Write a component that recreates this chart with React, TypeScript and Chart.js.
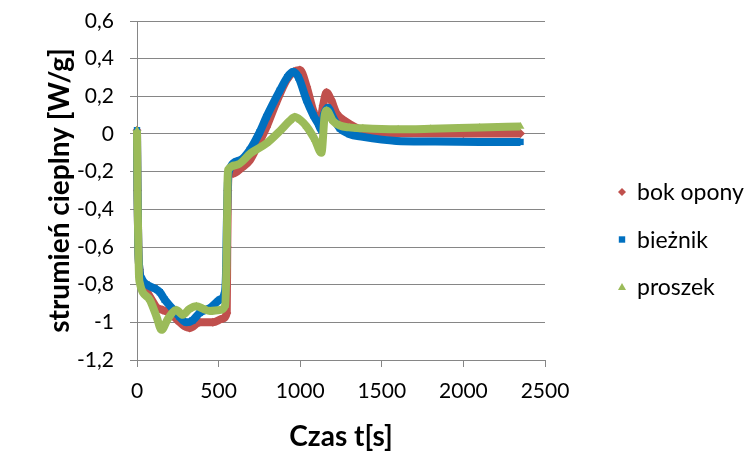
import React, { useEffect, useRef } from 'react';
import { Chart, registerables } from 'chart.js';

Chart.register(...registerables);

const SERIES_NAMES = ['bok opony', 'bieżnik', 'proszek'];
const SERIES_COLORS = ['#C0504D', '#0070C0', '#9BBB59'];
const SERIES_MARKERS = ['rectRot', 'rect', 'triangle'];

const bokOponyT = [0, 3, 8, 15, 30, 57, 90, 119, 158, 200, 250, 290, 323, 384, 465, 527, 550, 553, 557, 565, 589, 640, 691, 740, 793, 850, 916, 960, 998, 1040, 1079, 1120, 1140, 1161, 1190, 1222, 1284, 1384, 1500, 1590, 2000, 2350];
const bokOponyQ = [0.02, -0.3, -0.6, -0.72, -0.78, -0.83, -0.88, -0.92, -0.935, -0.95, -0.99, -1.02, -1.03, -1.0, -1.0, -0.98, -0.95, -0.6, -0.3, -0.21, -0.21, -0.18, -0.14, -0.06, 0.036, 0.16, 0.285, 0.33, 0.34, 0.25, 0.126, 0.055, 0.15, 0.22, 0.18, 0.11, 0.064, 0.02, 0.008, 0.004, 0.003, 0.003];

const bieznikT = [0, 3, 8, 15, 30, 60, 108, 140, 170, 220, 260, 303, 340, 384, 446, 507, 535, 545, 550, 555, 562, 630, 691, 752, 793, 875, 920, 956, 990, 1039, 1080, 1110, 1130, 1145, 1170, 1200, 1243, 1300, 1384, 1500, 1590, 1800, 2100, 2350];
const bieznikQ = [0.02, -0.3, -0.6, -0.72, -0.77, -0.8, -0.82, -0.84, -0.88, -0.93, -0.97, -1.0, -0.99, -0.95, -0.925, -0.88, -0.85, -0.75, -0.5, -0.3, -0.2, -0.14, -0.085, 0.01, 0.09, 0.23, 0.3, 0.33, 0.3, 0.18, 0.1, 0.055, 0.02, 0.1, 0.14, 0.09, 0.03, 0.0, -0.015, -0.03, -0.037, -0.04, -0.042, -0.042];

const proszekT = [0, 3, 8, 12, 17, 78, 120, 150, 190, 241, 281, 320, 364, 410, 446, 507, 540, 548, 552, 555, 558, 609, 700, 793, 880, 936, 967, 1000, 1039, 1090, 1130, 1150, 1161, 1200, 1243, 1300, 1384, 1600, 1800, 2100, 2350];
const proszekQ = [0.02, -0.3, -0.6, -0.75, -0.79, -0.88, -0.97, -1.04, -0.98, -0.935, -0.96, -0.93, -0.915, -0.93, -0.94, -0.935, -0.91, -0.7, -0.45, -0.25, -0.19, -0.165, -0.1, -0.05, 0.02, 0.07, 0.09, 0.075, 0.04, -0.03, -0.1, 0.1, 0.125, 0.07, 0.045, 0.035, 0.03, 0.025, 0.028, 0.035, 0.04];

const SERIES_T = [bokOponyT, bieznikT, proszekT];
const SERIES_Q = [bokOponyQ, bieznikQ, proszekQ];

const X_MIN = 0;
const X_MAX = 2500;
const X_STEP = 500;
const Y_MIN = -1.2;
const Y_MAX = 0.6;
const Y_STEP = 0.2;

const X_TITLE = 'Czas t[s]';
const Y_TITLE = 'strumień cieplny [W/g]';

const FONT = 'Lato, sans-serif';
const GRID = '#868686';

function fmtY(v: number): string {
  const r = Math.round(v * 10) / 10;
  if (Math.abs(r) < 1e-9) return '0';
  if (Number.isInteger(r)) return String(r);
  return r.toFixed(1).replace('.', ',');
}

function drawMarker(ctx: CanvasRenderingContext2D, style: string, x: number, y: number, r: number) {
  ctx.beginPath();
  if (style === 'rectRot') {
    ctx.moveTo(x, y - r);
    ctx.lineTo(x + r, y);
    ctx.lineTo(x, y + r);
    ctx.lineTo(x - r, y);
  } else if (style === 'rect') {
    ctx.rect(x - r * 0.8, y - r * 0.8, r * 1.6, r * 1.6);
  } else {
    ctx.moveTo(x, y - r);
    ctx.lineTo(x + r, y + r * 0.75);
    ctx.lineTo(x - r, y + r * 0.75);
  }
  ctx.closePath();
  ctx.fill();
}

const sideLegend = {
  id: 'sideLegend',
  afterDraw(chart: any) {
    const ctx: CanvasRenderingContext2D = chart.ctx;
    const markerX = 622;
    const firstY = 192;
    const gap = 47.5;
    ctx.save();
    ctx.font = `23px ${FONT}`;
    ctx.textBaseline = 'middle';
    ctx.textAlign = 'left';
    chart.data.datasets.forEach((ds: any, i: number) => {
      const y = firstY + i * gap;
      ctx.fillStyle = ds.borderColor;
      drawMarker(ctx, ds.pointStyle, markerX, y, 4);
      ctx.fillStyle = '#000';
      ctx.fillText(ds.label, markerX + 15, y + 1);
    });
    ctx.restore();
  },
};

export default function App() {
  const ref = useRef<HTMLCanvasElement | null>(null);

  useEffect(() => {
    if (!ref.current) return;
    const datasets = SERIES_NAMES.map((name, i) => ({
      label: name,
      data: SERIES_T[i].map((t, k) => ({ x: t, y: SERIES_Q[i][k] })),
      borderColor: SERIES_COLORS[i],
      backgroundColor: SERIES_COLORS[i],
      pointBackgroundColor: SERIES_COLORS[i],
      pointBorderColor: SERIES_COLORS[i],
      pointStyle: SERIES_MARKERS[i],
      pointRadius: 4.5,
      pointBorderWidth: 0,
      borderWidth: 8,
      cubicInterpolationMode: 'monotone' as const,
      fill: false,
      clip: 12,
      order: 3 - i,
    }));

    const chart = new Chart(ref.current, {
      type: 'line',
      data: { datasets },
      plugins: [sideLegend],
      options: {
        animation: false,
        responsive: true,
        maintainAspectRatio: false,
        layout: { padding: { left: 0, top: 21, right: 206, bottom: 0 } },
        plugins: {
          legend: { display: false },
          tooltip: { enabled: false },
          title: { display: false },
        },
        scales: {
          x: {
            type: 'linear',
            min: X_MIN,
            max: X_MAX,
            ticks: { stepSize: X_STEP, color: '#000', font: { family: FONT, size: 21 }, padding: 12, maxRotation: 0, callback: (v: any) => String(v) },
            grid: { display: true, drawOnChartArea: false, drawTicks: true, tickLength: 7, color: GRID },
            border: { display: true, color: GRID },
            title: {
              display: true,
              text: X_TITLE,
              color: '#000',
              font: { family: FONT, size: 28, weight: 'bold', lineHeight: 1 },
              padding: { top: 0, bottom: 1 },
            },
            afterFit(scale: any) {
              scale.height = 92;
              scale.paddingLeft = 0;
              scale.paddingRight = 0;
            },
          },
          y: {
            type: 'linear',
            min: Y_MIN,
            max: Y_MAX,
            ticks: { stepSize: Y_STEP, color: '#000', font: { family: FONT, size: 21 }, padding: 16, callback: (v: any) => fmtY(Number(v)) },
            grid: { display: true, drawTicks: true, tickLength: 7, color: GRID },
            border: { display: true, color: GRID },
            title: {
              display: true,
              text: Y_TITLE,
              color: '#000',
              font: { family: FONT, size: 28, weight: 'bold', lineHeight: 1 },
              padding: { top: 46, bottom: 0 },
            },
            afterFit(scale: any) {
              scale.width = 137;
              scale.paddingTop = 0;
              scale.paddingBottom = 0;
            },
          },
        },
      } as any,
    });
    return () => chart.destroy();
  }, []);

  return (
    <div style={{ position: 'fixed', left: 0, top: 0, width: 751, height: 452, background: '#fff' }}>
      <canvas ref={ref} />
    </div>
  );
}
